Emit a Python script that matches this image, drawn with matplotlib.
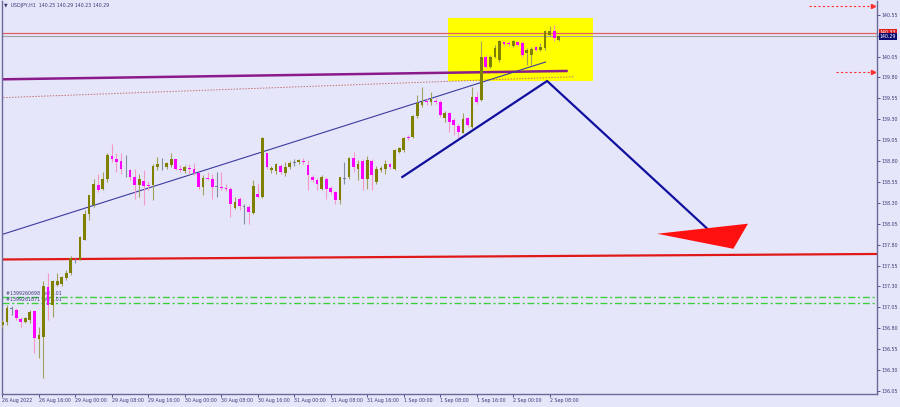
import matplotlib
matplotlib.use("Agg")
import matplotlib.pyplot as plt
from matplotlib.patches import Rectangle, Polygon

# hourly USDJPY candles, 26 Aug 08:00 .. 2 Sep
opens = [136.84, 136.88, 137.03, 137.02, 136.91, 136.88, 136.90, 137.00, 136.67, 136.70,
         137.29, 137.08, 137.32, 137.33, 137.40, 137.46, 137.60, 137.62, 137.86, 138.17,
         138.27, 138.51, 138.46, 138.58, 138.86, 138.83, 138.80, 138.70, 138.69, 138.61,
         138.51, 138.56, 138.51, 138.51, 138.73, 138.75, 138.73, 138.75, 138.82, 138.71,
         138.68, 138.72, 138.70, 138.66, 138.49, 138.60, 138.59, 138.49, 138.49, 138.48,
         138.46, 138.24, 138.34, 138.25, 138.25, 138.18, 138.40, 138.37, 138.89, 138.69,
         138.68, 138.74, 138.66, 138.73, 138.78, 138.79, 138.80, 138.75, 138.61, 138.57,
         138.47, 138.59, 138.48, 138.43, 138.33, 138.59, 138.61, 138.84, 138.71, 138.80,
         138.58, 138.80, 138.55, 138.69, 138.71, 138.76, 138.71, 138.91, 138.93, 139.09,
         139.09, 139.34, 139.47, 139.52, 139.50, 139.52, 139.51, 139.32, 139.38, 139.29,
         139.22, 139.14, 139.31, 139.21, 139.57, 139.53, 140.05, 139.93, 140.05, 140.01,
         140.22, 140.21, 140.18, 140.22, 140.21, 140.09, 140.07, 140.16, 140.13, 140.15,
         140.31, 140.35, 140.25]
highs = [136.90, 137.08, 137.06, 137.04, 136.94, 136.94, 137.02, 137.02, 136.82, 137.36,
         137.46, 137.38, 137.46, 137.42, 137.50, 137.66, 137.64, 137.90, 138.21, 138.39,
         138.59, 138.65, 138.67, 138.89, 139.00, 138.89, 138.89, 138.87, 138.71, 138.70,
         138.65, 138.69, 138.56, 138.77, 138.85, 138.84, 138.79, 138.89, 138.83, 138.75,
         138.75, 138.77, 138.78, 138.67, 138.63, 138.67, 138.65, 138.67, 138.67, 138.52,
         138.49, 138.37, 138.37, 138.29, 138.27, 138.57, 138.52, 139.09, 138.90, 138.74,
         138.78, 138.76, 138.79, 138.80, 138.82, 138.83, 138.84, 138.81, 138.63, 138.60,
         138.63, 138.61, 138.50, 138.44, 138.61, 138.79, 138.85, 138.91, 138.81, 138.82,
         138.86, 138.83, 138.74, 138.74, 138.81, 138.78, 138.94, 138.97, 139.09, 139.11,
         139.35, 139.59, 139.69, 139.55, 139.63, 139.55, 139.53, 139.40, 139.39, 139.31,
         139.24, 139.37, 139.33, 139.69, 139.62, 140.23, 140.07, 140.07, 140.19, 140.25,
         140.24, 140.23, 140.25, 140.23, 140.23, 140.15, 140.16, 140.18, 140.21, 140.37,
         140.41, 140.43, 140.29]
lows = [136.80, 136.84, 136.96, 136.90, 136.82, 136.86, 136.86, 136.50, 136.44, 136.20,
        136.90, 136.94, 137.30, 137.30, 137.38, 137.44, 137.58, 137.62, 137.85, 138.09,
        138.25, 138.43, 138.45, 138.55, 138.79, 138.67, 138.65, 138.61, 138.57, 138.35,
        138.37, 138.27, 138.45, 138.33, 138.69, 138.69, 138.71, 138.73, 138.69, 138.67,
        138.66, 138.65, 138.63, 138.47, 138.39, 138.57, 138.35, 138.37, 138.45, 138.44,
        138.13, 138.23, 138.21, 138.05, 138.05, 138.17, 138.36, 138.36, 138.70, 138.66,
        138.64, 138.65, 138.62, 138.71, 138.74, 138.76, 138.76, 138.45, 138.55, 138.45,
        138.45, 138.34, 138.40, 138.29, 138.29, 138.53, 138.59, 138.67, 138.57, 138.45,
        138.47, 138.45, 138.53, 138.67, 138.65, 138.71, 138.69, 138.89, 138.91, 139.05,
        139.07, 139.32, 139.45, 139.47, 139.47, 139.48, 139.33, 139.27, 139.15, 139.11,
        139.07, 139.13, 139.21, 139.19, 139.48, 139.52, 139.91, 139.91, 140.03, 139.99,
        140.18, 140.18, 140.16, 140.17, 140.05, 139.95, 139.95, 140.12, 140.11, 140.13,
        140.29, 140.23, 140.23]
closes = [136.88, 137.04, 137.03, 136.92, 136.88, 136.92, 136.99, 136.68, 136.72, 137.30,
          137.08, 137.36, 137.36, 137.41, 137.46, 137.64, 137.60, 137.89, 138.17, 138.39,
          138.52, 138.45, 138.58, 138.87, 138.82, 138.79, 138.70, 138.70, 138.61, 138.51,
          138.58, 138.50, 138.50, 138.74, 138.76, 138.75, 138.78, 138.82, 138.70, 138.69,
          138.73, 138.71, 138.66, 138.49, 138.60, 138.58, 138.49, 138.49, 138.48, 138.46,
          138.29, 138.31, 138.26, 138.25, 138.19, 138.50, 138.37, 139.07, 138.73, 138.72,
          138.76, 138.67, 138.73, 138.78, 138.78, 138.81, 138.79, 138.63, 138.57, 138.53,
          138.61, 138.47, 138.43, 138.33, 138.61, 138.59, 138.84, 138.73, 138.76, 138.59,
          138.81, 138.63, 138.71, 138.72, 138.77, 138.73, 138.93, 138.95, 139.08, 139.07,
          139.34, 139.49, 139.51, 139.50, 139.54, 139.50, 139.35, 139.38, 139.27, 139.23,
          139.15, 139.30, 139.23, 139.57, 139.50, 140.05, 139.93, 140.05, 140.15, 140.23,
          140.20, 140.20, 140.23, 140.19, 140.07, 140.13, 140.14, 140.13, 140.16, 140.35,
          140.35, 140.27, 140.29]

time_labels = ["26 Aug 2022", "26 Aug 16:00", "29 Aug 00:00", "29 Aug 08:00", "29 Aug 16:00",
               "30 Aug 00:00", "30 Aug 08:00", "30 Aug 16:00", "31 Aug 00:00", "31 Aug 08:00",
               "31 Aug 16:00", "1 Sep 00:00", "1 Sep 08:00", "1 Sep 16:00", "2 Sep 00:00",
               "2 Sep 08:00"]
price_ticks = [140.55, 140.30, 140.05, 139.80, 139.55, 139.30, 139.05, 138.80, 138.55, 138.30,
               138.05, 137.80, 137.55, 137.30, 137.05, 136.80, 136.55, 136.30, 136.05]

# drawn objects, in (bar index, price)
yellow_box = (97.65, 139.76, 129.45, 140.507)
purple_trend = ([-0.44, 123.7], [139.777, 139.877])
dotted_trend = ([-0.44, 125.2], [139.557, 139.808])
thin_trend = ([-0.44, 119.1], [137.915, 139.984])
zigzag = ([87.7, 119.45, 155.6], [138.609, 139.757, 137.939])
arrow_head = [(143.6, 137.93), (163.5, 138.05), (160.3, 137.75)]
support = ([-0.44, 191.9], [137.622, 137.688])
red_level = 140.33
bid = 140.29
order_levels = [137.177, 137.098]
order_names = ["#1399260698 sell 0.01", "#1399261871 sell 0.01"]
tp_lines = [(176.8, 191.3, 140.66), (182.7, 191.3, 139.865)]

BG = "#e6e6fa"
BULL, BEAR = "#808000", "#ff00ff"
TXT = "#3a3a78"
FS = 3.4

fig = plt.figure(figsize=(9, 4.07), dpi=100, facecolor=BG)
ax = fig.add_axes([2 / 900, 13 / 407, 875 / 900, 393 / 407], facecolor=BG)
ax.set_xlim(-0.1, 191.8)
ax.set_ylim(136.013, 140.714)

ax.add_patch(Rectangle((yellow_box[0], yellow_box[1]), yellow_box[2] - yellow_box[0],
                       yellow_box[3] - yellow_box[1], facecolor="#ffff00", edgecolor="none", zorder=1))

# order lines with their labels
for lvl, name in zip(order_levels, order_names):
    ax.axhline(lvl, color="#3ecf3e", lw=1.0, ls=(0, (5, 2, 1.5, 2)), zorder=1)
    ax.text(0.8, lvl + 0.012, name, fontsize=FS, color=TXT, va="bottom", zorder=1)

ax.plot(*support, color="#e01818", lw=1.6, zorder=2)
ax.axhline(red_level, color="#e06060", lw=0.9, zorder=2)
ax.axhline(bid, color="#a0a0a8", lw=0.8, zorder=2)
ax.plot(*purple_trend, color="#8b1a8b", lw=1.8, zorder=2)
ax.plot(*dotted_trend, color="#c07070", lw=0.7, ls=(0, (1.5, 1.5)), zorder=2)
ax.plot(*thin_trend, color="#3c3ca0", lw=0.8, zorder=2)

for x0, x1, lvl in tp_lines:
    ax.plot([x0, x1], [lvl, lvl], color="#ff3030", lw=0.8, ls=(0, (2, 2)), zorder=2)
    ax.plot([x1 - 0.4], [lvl], marker=">", ms=3, color="#ff3030", zorder=2)

# candles
for i, (o, h, l, c) in enumerate(zip(opens, highs, lows, closes)):
    if c > o:
        body, wick = BULL, "#a0a060"
    elif c < o:
        body, wick = BEAR, "#f59ac4"
    else:
        body, wick = "#708090", "#8090a0"
    ax.vlines(i, l, h, color=wick, lw=0.8, zorder=3)
    lo, hi = min(o, c), max(o, c)
    ax.add_patch(Rectangle((i - 0.3, lo), 0.6, max(hi - lo, 0.008), facecolor=body,
                           edgecolor="none", zorder=4))

ax.plot(*zigzag, color="#1010a0", lw=1.6, zorder=5)
ax.add_patch(Polygon(arrow_head, closed=True, facecolor="#ff1010", edgecolor="none", zorder=5))

# axes dressing
ax.spines["top"].set_visible(False)
for side in ("left", "right", "bottom"):
    ax.spines[side].set_color("#6a6a98")
    ax.spines[side].set_linewidth(1.0)

ax.yaxis.tick_right()
ax.set_yticks(price_ticks)
ax.set_yticklabels([f"{p:.2f}" for p in price_ticks])
ax.tick_params(axis="y", length=2, width=0.6, color=TXT, labelsize=FS, labelcolor=TXT, pad=1.2)

ax.set_xticks([8 * k for k in range(len(time_labels))])
ax.set_xticklabels(time_labels, ha="left")
ax.tick_params(axis="x", length=2, width=0.6, color=TXT, labelsize=FS, labelcolor=TXT, pad=1.2)

# price tags on the right edge
ax.text(1.003, red_level + 0.01, "140.33", transform=ax.get_yaxis_transform(), fontsize=FS,
        color="white", va="center", ha="left",
        bbox=dict(boxstyle="square,pad=0.15", fc="#e02020", ec="none"))
ax.text(1.003, bid, "140.29", transform=ax.get_yaxis_transform(), fontsize=FS,
        color="white", va="center", ha="left",
        bbox=dict(boxstyle="square,pad=0.15", fc="#0a0a70", ec="none"))

fig.text(4 / 900, 1 - 6 / 407, "\u25bc  USDJPY,H1  140.25 140.29 140.23 140.29", fontsize=FS,
         color=TXT, va="center", ha="left")

fig.savefig("out.png", dpi=100, facecolor=BG)
